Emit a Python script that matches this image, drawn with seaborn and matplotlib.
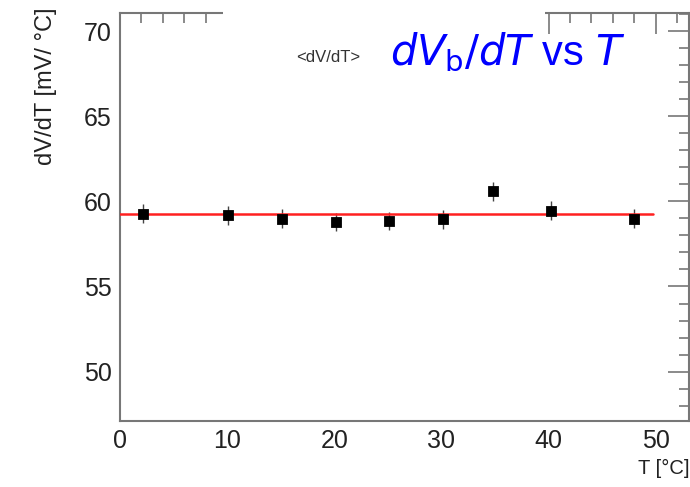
import matplotlib
matplotlib.use("Agg")
import matplotlib.pyplot as plt
import seaborn as sns
import pandas as pd
import numpy as np
from matplotlib.ticker import MultipleLocator
from matplotlib.patches import Rectangle

temperature = [2.1, 10.1, 15.1, 20.2, 25.1, 30.1, 34.8, 40.2, 48.0]
slope = [59.27, 59.17, 58.98, 58.79, 58.85, 58.94, 60.58, 59.46, 58.98]
slope_err = [0.55, 0.55, 0.55, 0.55, 0.55, 0.55, 0.55, 0.55, 0.55]
fit_range = [0.0, 49.7]
fit_value = 59.23

sns.set_theme(style="white")
plt.rcParams['font.family'] = ['Liberation Sans', 'DejaVu Sans']

df = pd.DataFrame({"T": temperature, "dVdT": slope, "err": slope_err})
fit_df = pd.DataFrame({"T": fit_range, "dVdT": [fit_value, fit_value]})

fig = plt.figure(figsize=(6.9, 4.87), dpi=100)
ax = fig.add_axes([0.174, 0.1355, 0.8245, 0.8375])

ax.errorbar(df["T"], df["dVdT"], yerr=df["err"], fmt="none", ecolor="#444444",
            elinewidth=1.0, capsize=0, zorder=2)
sns.lineplot(data=fit_df, x="T", y="dVdT", ax=ax, color="#ff2020", lw=1.8, zorder=3)
sns.scatterplot(data=df, x="T", y="dVdT", ax=ax, marker="s", s=55, color="black",
                edgecolor="black", zorder=4)

ax.set_xlim(0, 53.1)
ax.set_ylim(47.1, 71.05)
ax.xaxis.set_major_locator(MultipleLocator(10))
ax.xaxis.set_minor_locator(MultipleLocator(2))
ax.yaxis.set_major_locator(MultipleLocator(5))
ax.yaxis.set_minor_locator(MultipleLocator(1))
ax.tick_params(which="both", direction="in", top=True, right=True,
               color="#777777", width=1.2)
ax.tick_params(which="major", length=15, labelsize=18, labelcolor="#222222", pad=6)
ax.tick_params(which="minor", length=7)
for s in ax.spines.values():
    s.set_color("#777777")
    s.set_linewidth(1.5)
ax.set_xlabel("")
ax.set_ylabel("")

fig.text(0.999, 0.018, "T [°C]", ha="right", va="bottom", fontsize=14.5, color="#222222")
fig.text(0.066, 0.985, "dV/dT [mV/ °C]", rotation=90, ha="center", va="top",
         fontsize=17, color="#222222")

# title box covering part of the top frame
fig.add_artist(Rectangle((0.323, 0.93), 0.467, 0.07, transform=fig.transFigure,
                         facecolor="white", edgecolor="none", zorder=10))
fig.text(0.475, 0.881, "<dV/dT>", ha="center", va="center", fontsize=12,
         color="#333333", zorder=11)
fig.text(0.565, 0.893, r"$dV_{\mathrm{b}}/dT$" + " vs " + r"$T$", ha="left", va="center",
         fontsize=30, color="#0000ff", zorder=11)

fig.savefig("out.png", dpi=100)
